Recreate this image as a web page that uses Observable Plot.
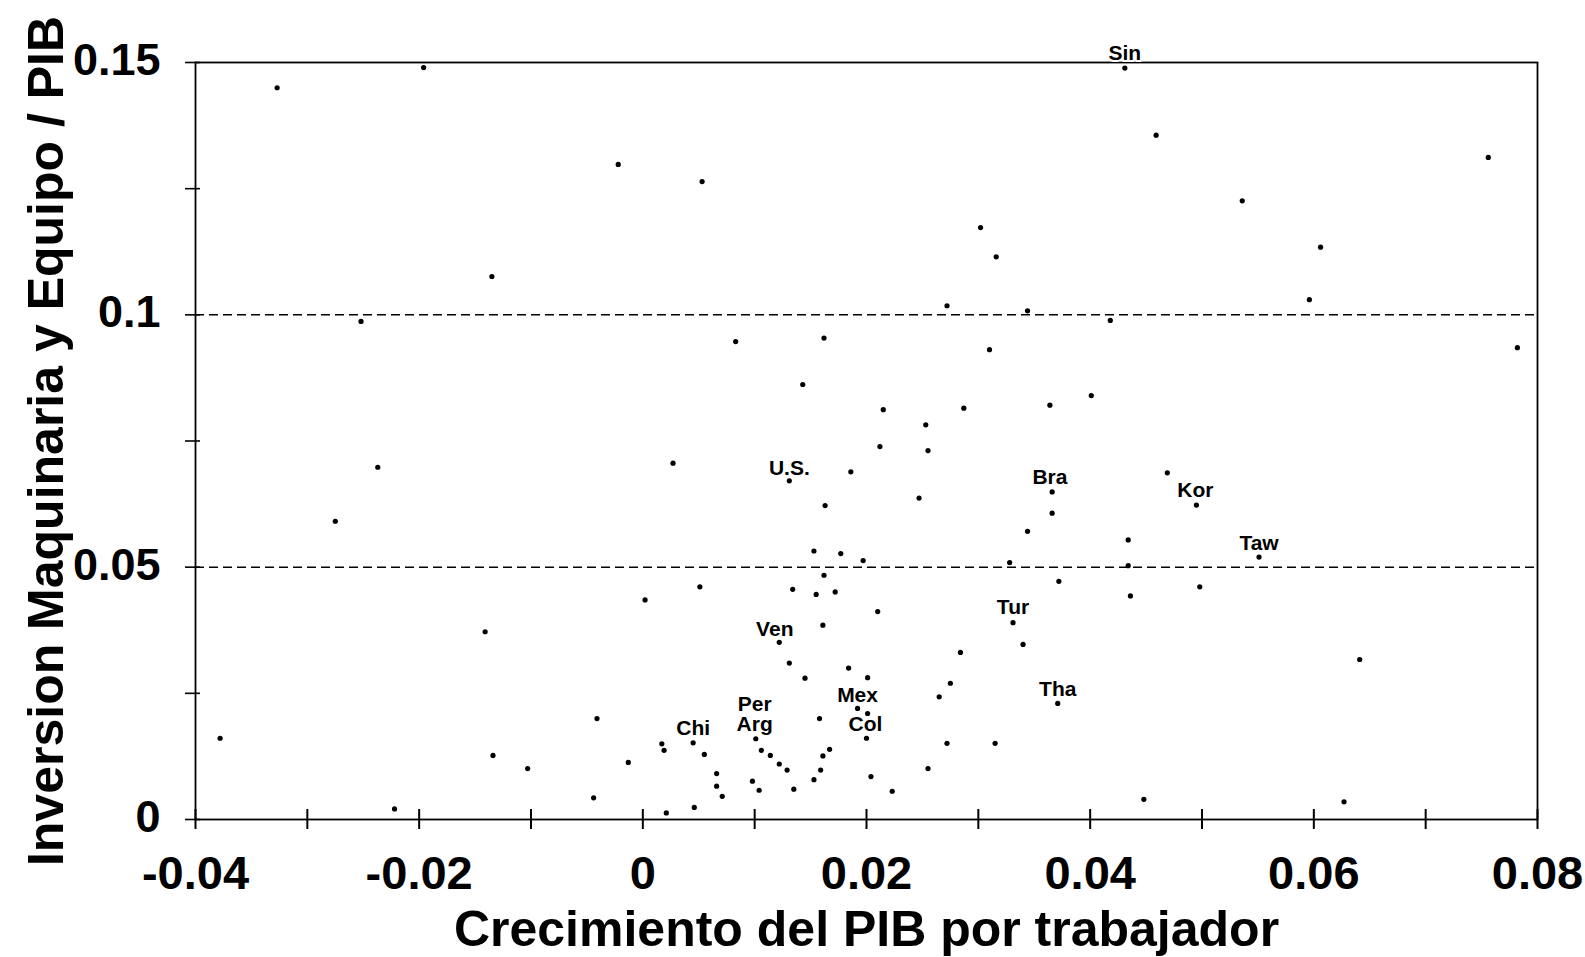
<!DOCTYPE html>
<html><head><meta charset="utf-8">
<script src="https://cdn.jsdelivr.net/npm/d3@7"></script>
<script src="https://cdn.jsdelivr.net/npm/@observablehq/plot@0.6"></script>
<style>body{margin:0;background:#fff;} svg{display:block}</style>
</head><body><div id="chart"></div>
<script>
// Crecimiento del PIB por trabajador (x) vs Inversion Maquinaria y Equipo / PIB (y)
const growth = [
  -0.0196, -0.0327, -0.0135, -0.0022, 0.0053, 0.0431, 0.0459, 0.0302, 0.0316, 0.0272,
  0.0756, 0.0536, 0.0606, 0.0596, -0.0252, -0.0237, -0.0275, 0.0162, 0.0143, 0.0083,
  0.0027, 0.0186, 0.0131, 0.0163, 0.0153, 0.0177, 0.0197, 0.0162, 0.0344, 0.0418,
  0.0310, 0.0401, 0.0215, 0.0287, 0.0364, 0.0253, 0.0212, 0.0255, 0.0247, 0.0366,
  0.0366, 0.0344, 0.0434, 0.0469, 0.0495, 0.0328, 0.0434, 0.0782, 0.0551, 0.0372,
  0.0436, 0.0498, 0.0210, 0.0331, 0.0340, 0.0284, 0.0201, 0.0275, 0.0265, 0.0371,
  0.0201, 0.0200, 0.0272, 0.0315, 0.0255, 0.0204, 0.0223, 0.0448, 0.0641, 0.0627,
  -0.0141, -0.0378, -0.0134, -0.0103, -0.0222, 0.0002, 0.0051, -0.0041, -0.0013, -0.0044,
  0.0021, 0.0046, 0.0017, 0.0019, 0.0045, 0.0055, 0.0066, 0.0066, 0.0071, 0.0098,
  0.0104, 0.0101, 0.0106, 0.0114, 0.0122, 0.0129, 0.0135, 0.0153, 0.0159, 0.0161,
  0.0167, 0.0158, 0.0192, 0.0122, 0.0131, 0.0145, 0.0184, 0.0161, 0.0134, 0.0155,
  0.0172
];
const investment = [
  0.1490, 0.1450, 0.1076, 0.1298, 0.1264, 0.1489, 0.1356, 0.1173, 0.1115, 0.1018,
  0.1312, 0.1226, 0.1134, 0.1030, 0.0987, 0.0698, 0.0591, 0.0954, 0.0862, 0.0947,
  0.0706, 0.0689, 0.0671, 0.0622, 0.0532, 0.0527, 0.0513, 0.0484, 0.1008, 0.0989,
  0.0931, 0.0840, 0.0812, 0.0815, 0.0821, 0.0782, 0.0739, 0.0731, 0.0637, 0.0649,
  0.0607, 0.0571, 0.0554, 0.0687, 0.0623, 0.0509, 0.0503, 0.0935, 0.0520, 0.0472,
  0.0443, 0.0461, 0.0412, 0.0390, 0.0347, 0.0331, 0.0281, 0.0270, 0.0243, 0.0230,
  0.0210, 0.0161, 0.0151, 0.0151, 0.0101, 0.0085, 0.0056, 0.0040, 0.0317, 0.0035,
  0.0372, 0.0161, 0.0127, 0.0101, 0.0021, 0.0435, 0.0461, 0.0200, 0.0113, 0.0043,
  0.0013, 0.0024, 0.0150, 0.0137, 0.0152, 0.0129, 0.0091, 0.0066, 0.0046, 0.0076,
  0.0058, 0.0160, 0.0137, 0.0127, 0.0110, 0.0098, 0.0060, 0.0079, 0.0098, 0.0126,
  0.0139, 0.0200, 0.0220, 0.0351, 0.0310, 0.0280, 0.0300, 0.0385, 0.0456, 0.0446,
  0.0451
];

// Country labels (label anchor in data units)
const labelNames = ["Sin", "U.S.", "Bra", "Kor", "Taw", "Tur", "Tha", "Ven", "Mex", "Col", "Per", "Arg", "Chi"];
const labelX = [0.0431, 0.0131, 0.0364, 0.0494, 0.0551, 0.0331, 0.0371, 0.0118, 0.0192, 0.0199, 0.0100, 0.0100, 0.0045];
const labelY = [0.1518, 0.0696, 0.0679, 0.0652, 0.0548, 0.0420, 0.0259, 0.0377, 0.0247, 0.0189, 0.0228, 0.0188, 0.0180];

const xTickValues = [-0.04, -0.02, 0, 0.02, 0.04, 0.06, 0.08];
const xTickLabels = ["-0.04", "-0.02", "0", "0.02", "0.04", "0.06", "0.08"];
const xMinorTicks = [-0.04, -0.03, -0.02, -0.01, 0, 0.01, 0.02, 0.03, 0.04, 0.05, 0.06, 0.07, 0.08];
const yTickValues = [0, 0.05, 0.1, 0.15];
const yTickLabels = ["0", "0.05", "0.1", "0.15"];
const yMinorTicks = [0, 0.025, 0.05, 0.075, 0.1, 0.125, 0.15];
const gridLines = [0.05, 0.1];
const xTitle = "Crecimiento del PIB por trabajador";
const yTitle = "Inversion Maquinaria y Equipo / PIB";

const points = growth.map((g, i) => ({g, inv: investment[i]}));
const labels = labelNames.map((n, i) => ({n, x: labelX[i], y: labelY[i]}));

const chart = Plot.plot({
  width: 1585,
  height: 957,
  marginLeft: 195,
  marginRight: 48,
  marginTop: 62,
  marginBottom: 138,
  x: {domain: [-0.04, 0.08], axis: null},
  y: {domain: [0, 0.15], axis: null},
  style: {fontFamily: "'Liberation Sans', Arial, sans-serif", background: "white", color: "black"},
  marks: [
    Plot.ruleY(gridLines, {y: d => d, stroke: "black", strokeWidth: 1.5, strokeDasharray: "9,5"}),
    Plot.frame({stroke: "black", strokeWidth: 1.8}),
    Plot.ruleX(xMinorTicks, {x: d => d, y1: 0, y2: 0, insetTop: -10, insetBottom: -10, stroke: "black", strokeWidth: 2}),
    Plot.ruleY(yMinorTicks, {y: d => d, x1: -0.04, x2: -0.04, insetLeft: -10, insetRight: -5, stroke: "black", strokeWidth: 1.6}),
    Plot.text(xTickValues, {x: d => d, frameAnchor: "bottom", dy: 54, lineAnchor: "middle", textAnchor: "middle", text: (d, i) => xTickLabels[i], fontSize: 47, fontWeight: "bold", fill: "black"}),
    Plot.text(yTickValues, {y: d => d, frameAnchor: "left", dx: -35, dy: -2, lineAnchor: "middle", textAnchor: "end", text: (d, i) => yTickLabels[i], fontSize: 45, fontWeight: "bold", fill: "black"}),
    Plot.text([xTitle], {frameAnchor: "bottom", dy: 110, lineAnchor: "middle", textAnchor: "middle", text: d => d, fontSize: 50, fontWeight: "bold", fill: "black"}),
    Plot.text([yTitle], {frameAnchor: "left", dx: -149, rotate: -90, lineAnchor: "middle", textAnchor: "middle", text: d => d, fontSize: 50, fontWeight: "bold", fill: "black"}),
    Plot.text(labels, {x: "x", y: "y", text: "n", lineAnchor: "middle", textAnchor: "middle", fontSize: 21, fontWeight: "bold", fill: "black", stroke: "white", strokeWidth: 4}),
    Plot.dot(points, {x: "g", y: "inv", r: 2.6, fill: "black", stroke: "none"})
  ]
});
document.getElementById("chart").appendChild(chart);
</script>
</body></html>
